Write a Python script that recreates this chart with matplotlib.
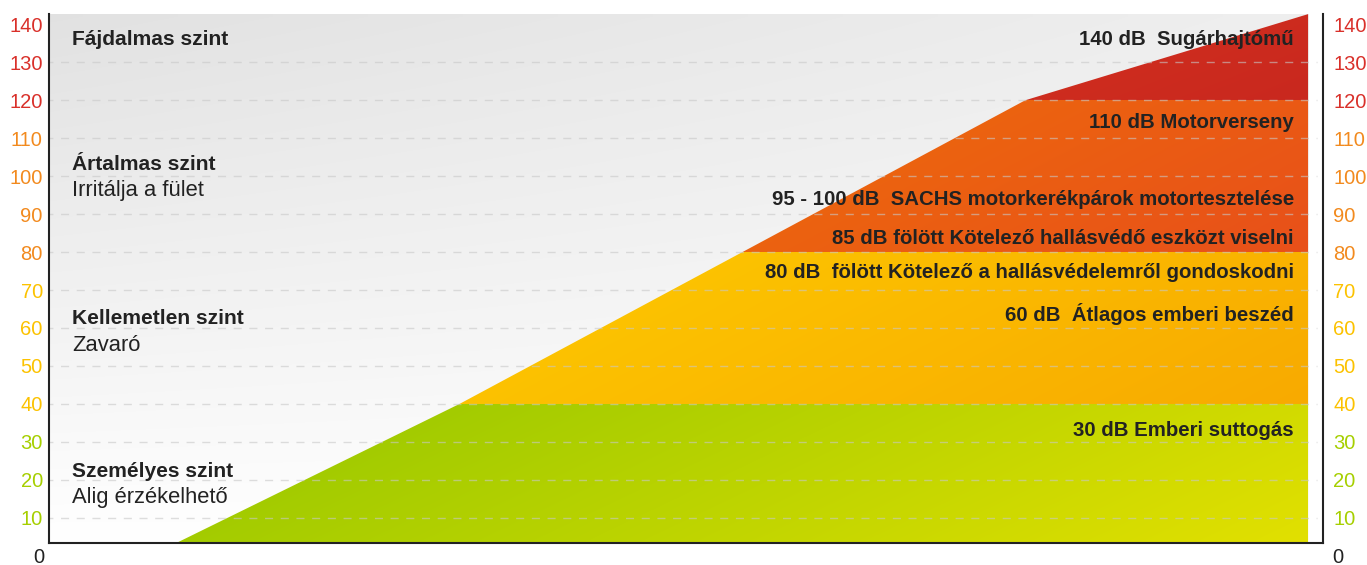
import numpy as np
import matplotlib
matplotlib.use("Agg")
import matplotlib.pyplot as plt
from matplotlib.patches import Polygon
from matplotlib.colors import to_rgb

# ---------------- data ----------------
line_x = [0, 1, 2, 3, 4]
line_db = [3.4, 40, 80, 120, 142.7]

band_lo = [0, 40, 80, 120]
band_hi = [40, 80, 120, 150]
band_left_colors = ["#92c600", "#ffd300", "#f27f00", "#e23e1e"]
band_right_colors = ["#e2e000", "#f8aa00", "#e8501a", "#c9281f"]

tick_values = [10, 20, 30, 40, 50, 60, 70, 80, 90, 100, 110, 120, 130, 140]
tick_colors = ["#a6cf00", "#a6cf00", "#a6cf00",
               "#fcc200", "#fcc200", "#fcc200", "#fcc200",
               "#f28a1e", "#f28a1e", "#f28a1e", "#f28a1e",
               "#d9302a", "#d9302a", "#d9302a"]

zone_titles = ["Fájdalmas szint", "Ártalmas szint", "Kellemetlen szint", "Személyes szint"]
zone_title_y = [136.9, 103.8, 63.4, 22.9]
zone_subtitles = ["", "Irritálja a fület", "Zavaró", "Alig érzékelhető"]
zone_sub_y = [0, 96.9, 56.2, 16.0]

notes = ["140 dB  Sugárhajtómű",
         "110 dB Motorverseny",
         "95 - 100 dB  SACHS motorkerékpárok motortesztelése",
         "85 dB fölött Kötelező hallásvédő eszközt viselni",
         "80 dB  fölött Kötelező a hallásvédelemről gondoskodni",
         "60 dB  Átlagos emberi beszéd",
         "30 dB Emberi suttogás"]
note_y = [136.9, 115.0, 94.6, 84.5, 75.3, 64.4, 33.7]

# ---------------- figure ----------------
plt.rcParams['font.family'] = ['Liberation Sans', 'DejaVu Sans']
fig = plt.figure(figsize=(13.67, 5.65), dpi=100)
ax = fig.add_axes([0.03585, 0.0395, 0.9320, 0.9355])
x_min, x_max = -0.452, 4.053
y_min, y_max = 3.42, 142.7
ax.set_xlim(x_min, x_max)
ax.set_ylim(y_min, y_max)
text_dy = -0.8

# background gradient
ny, nx = 100, 200
yy, xx = np.mgrid[0:1:ny * 1j, 0:1:nx * 1j]
g = 1.0 - 0.115 * yy * (1 - 0.45 * xx)
bg = np.dstack([g, g, g])
ax.imshow(bg, extent=(x_min, line_x[-1], y_min, y_max), origin='lower',
          aspect='auto', zorder=0, interpolation='bilinear')

# area under the line (clip)
poly_pts = [(line_x[0], y_min)] + list(zip(line_x, line_db)) + [(line_x[-1], y_min)]
clip = Polygon(poly_pts, closed=True, transform=ax.transData, facecolor='none', edgecolor='none')

for lo, hi, cl, cr in zip(band_lo, band_hi, band_left_colors, band_right_colors):
    c0 = np.array(to_rgb(cl))
    c1 = np.array(to_rgb(cr))
    t = np.clip(0.8 * xx + 0.2 * (1 - yy), 0, 1)[..., None]
    img = c0 * (1 - t) + c1 * t
    lo_c = max(lo, y_min)
    im = ax.imshow(img, extent=(line_x[0] - 0.1, line_x[-1], lo_c, hi), origin='lower',
                   aspect='auto', zorder=1, interpolation='bilinear')
    im.set_clip_path(clip)

# grid lines
ax.hlines(tick_values[:-1], x_min, x_max - 0.02, colors='#c8c8c8', alpha=0.6,
          linewidth=1.0, linestyles=(3, (5.8, 5.5)), zorder=3)

# spines
for s in ['left', 'bottom', 'right']:
    ax.spines[s].set_linewidth(1.5)
    ax.spines[s].set_color('#222222')
    ax.spines[s].set_zorder(6)
ax.spines['top'].set_visible(False)

ax.set_xticks([])
ax.set_yticks(tick_values)
ax.set_yticklabels([str(v) for v in tick_values])
ax.tick_params(axis='y', length=0, labelsize=14.5, pad=4.5, left=True, right=False,
               labelleft=True, labelright=False)
for tk, col in zip(ax.yaxis.get_major_ticks(), tick_colors):
    tk.label1.set_color(col)

axr = ax.twinx()
axr.set_ylim(y_min, y_max)
axr.set_yticks(tick_values)
axr.set_yticklabels([str(v) for v in tick_values])
axr.tick_params(axis='y', length=0, labelsize=14.5, pad=7.5)
for lab, col in zip(axr.get_yticklabels(), tick_colors):
    lab.set_color(col)
for s in axr.spines.values():
    s.set_visible(False)

# "0" labels
ax.annotate("0", xy=(0, 0 + text_dy * 0.6), xycoords=('axes fraction', 'data'), xytext=(-3, 0),
            textcoords='offset points', ha='right', va='center', fontsize=14.5,
            color='#222222', annotation_clip=False)
ax.annotate("0", xy=(1, 0 + text_dy * 0.6), xycoords=('axes fraction', 'data'), xytext=(6.5, 0),
            textcoords='offset points', ha='left', va='center', fontsize=14.5,
            color='#222222', annotation_clip=False)

# zone texts
for txt, y in zip(zone_titles, zone_title_y):
    ax.text(-0.371, y + text_dy, txt, ha='left', va='center', fontsize=15.1,
            fontweight='bold', color='#222222', zorder=5)
for txt, y in zip(zone_subtitles, zone_sub_y):
    if txt:
        ax.text(-0.371, y + text_dy, txt, ha='left', va='center', fontsize=15.8,
                color='#222222', zorder=5)

for txt, y in zip(notes, note_y):
    ax.text(3.95, y + text_dy, txt, ha='right', va='center', fontsize=14.7,
            fontweight='bold', color='#222222', zorder=5)

fig.savefig("out.png", dpi=100)
